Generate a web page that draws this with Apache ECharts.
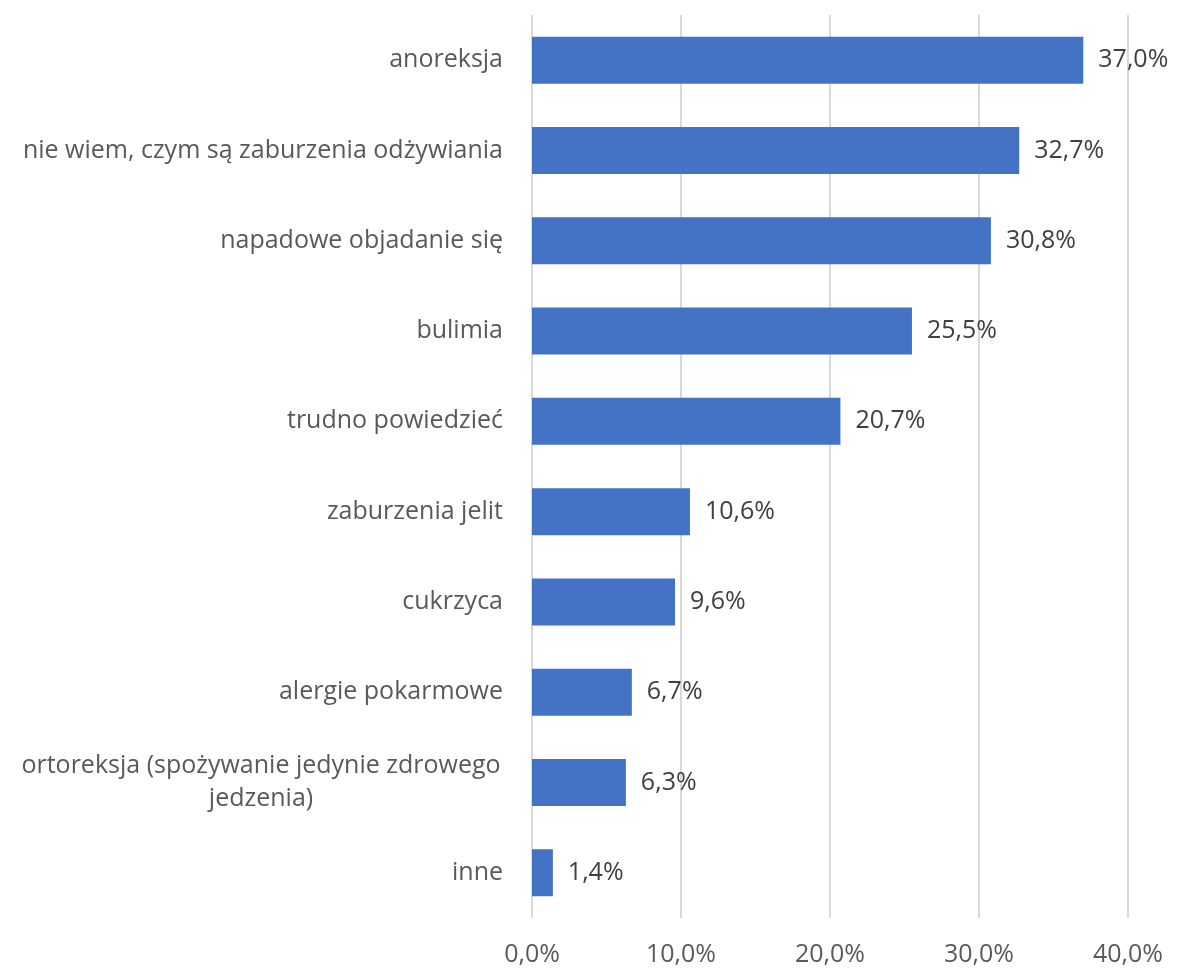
<!DOCTYPE html>
<html><head><meta charset="utf-8">
<script src="https://cdn.jsdelivr.net/npm/echarts@6/dist/echarts.min.js"></script>
<style>html,body{margin:0;padding:0;background:#fff}#c{width:1178px;height:969px}</style>
</head><body><div id="c"></div>
<script>
const categories = ["anoreksja","nie wiem, czym są zaburzenia odżywiania","napadowe objadanie się","bulimia","trudno powiedzieć","zaburzenia jelit","cukrzyca","alergie pokarmowe","ortoreksja (spożywanie jedynie zdrowego\njedzenia)","inne"];
const values = [37.0,32.7,30.8,25.5,20.7,10.6,9.6,6.7,6.3,1.4];
const xTicks = [0,10,20,30,40];
const fmt = v => v.toFixed(1).replace('.', ',') + '%';
const chart = echarts.init(document.getElementById('c'), null, {renderer:'canvas'});
const font = "'Open Sans', sans-serif";
const fs = 25;
chart.setOption({
  animation:false,
  grid:{left:532,right:50,top:15,bottom:51,containLabel:false},
  xAxis:{type:'value',min:xTicks[0],max:xTicks[xTicks.length-1],interval:10,
    axisLine:{show:false},axisTick:{show:false},
    splitLine:{lineStyle:{color:'#d9d9d9',width:2}},
    axisLabel:{formatter:fmt,color:'#595959',fontSize:fs,fontFamily:font,margin:24}},
  yAxis:{type:'category',data:categories,inverse:true,
    axisLine:{show:false},axisTick:{show:false},
    axisLabel:{color:'#595959',fontSize:fs,fontFamily:font,margin:29,lineHeight:33,
      formatter:v=> v.indexOf('\n')>=0 ? v.split('\n').map(s=>'{c|'+s+'}').join('\n') : v,
      rich:{c:{width:484,align:'center',color:'#595959',fontSize:fs,fontFamily:font,lineHeight:33}}}},
  series:[{type:'bar',data:values,barWidth:47,itemStyle:{color:'#4472C4'},
    label:{show:true,position:'right',distance:15,formatter:p=>fmt(p.value),color:'#404040',fontSize:fs,fontFamily:font}}]
});
</script></body></html>
